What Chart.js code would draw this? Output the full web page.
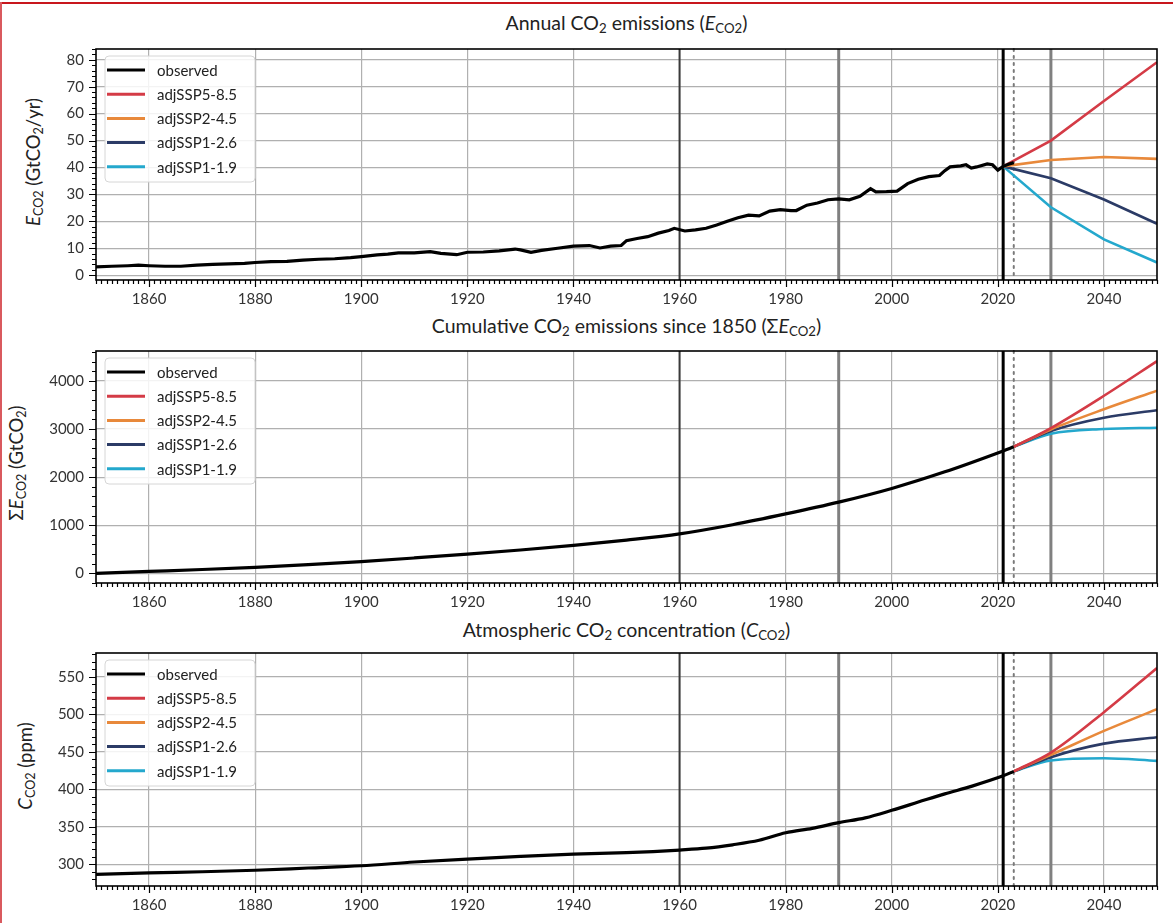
<!DOCTYPE html>
<html>
<head>
<meta charset="utf-8">
<script src="https://cdn.jsdelivr.net/npm/chart.js@4.4.1/dist/chart.umd.min.js"></script>
<style>
body { margin: 0; background: #fff; width: 1173px; height: 923px; overflow: hidden; font-family: Lato, sans-serif; position: relative; }
.frame-top { position: absolute; left: 0; top: 2px; width: 1173px; height: 2px; background: #c8161d; }
.frame-left { position: absolute; left: 0; top: 2px; width: 2px; height: 921px; background: #d9595e; }
.panel { position: absolute; left: 0; width: 1173px; }
.title { position: absolute; left: 96px; width: 1061px; text-align: center; font-size: 19.5px; line-height: 22px; color: #222; }
.ylab { position: absolute; transform: translate(-50%, -50%) rotate(-90deg); white-space: nowrap; font-size: 18.5px; color: #222; }
sub { font-size: 68%; vertical-align: -0.25em; line-height: 0; }
</style>
</head>
<body>
<div class="frame-top"></div>
<div class="frame-left"></div>

<div class="title" style="top:12px">Annual CO<sub>2</sub> emissions (<i>E</i><sub>CO2</sub>)</div>
<div class="title" style="top:315px">Cumulative CO<sub>2</sub> emissions since 1850 (Σ<i>E</i><sub>CO2</sub>)</div>
<div class="title" style="top:619px">Atmospheric CO<sub>2</sub> concentration (<i>C</i><sub>CO2</sub>)</div>

<div class="ylab" style="left:33px;top:162px"><i>E</i><sub>CO2</sub> (GtCO<sub>2</sub>/yr)</div>
<div class="ylab" style="left:16px;top:463px">Σ<i>E</i><sub>CO2</sub> (GtCO<sub>2</sub>)</div>
<div class="ylab" style="left:25px;top:766px"><i>C</i><sub>CO2</sub> (ppm)</div>

<div class="panel" style="top:28px;height:282px"><canvas id="chart-emis"></canvas></div>
<div class="panel" style="top:330px;height:283px"><canvas id="chart-cum"></canvas></div>
<div class="panel" style="top:632px;height:284px"><canvas id="chart-conc"></canvas></div>

<script>
// ---- data ----
const seriesLabels = ['observed', 'adjSSP5-8.5', 'adjSSP2-4.5', 'adjSSP1-2.6', 'adjSSP1-1.9'];
const xTicks = [1860, 1880, 1900, 1920, 1940, 1960, 1980, 2000, 2020, 2040];
const markerYears = [1960, 1990, 2021, 2023, 2030];

// annual emissions (GtCO2/yr)
const emisYears = [1850, 1853, 1856, 1858, 1860, 1863, 1866, 1869, 1872, 1875, 1878, 1880, 1883, 1886, 1889,
    1892, 1895, 1898, 1900, 1903, 1905, 1907, 1910, 1913, 1915, 1918, 1920, 1923, 1926, 1929, 1930, 1932, 1934,
    1937, 1940, 1943, 1945, 1947, 1949, 1950, 1952, 1954, 1956, 1958, 1959, 1961, 1963, 1965, 1967, 1969, 1971,
    1973, 1975, 1977, 1979, 1981, 1982, 1984, 1986, 1988, 1990, 1992, 1994, 1996, 1997, 1999, 2001, 2003, 2005,
    2007, 2009, 2010, 2011, 2013, 2014, 2015, 2016, 2018, 2019, 2020, 2021, 2022, 2023];
const emisObs = [3.1, 3.3, 3.5, 3.7, 3.5, 3.3, 3.3, 3.7, 4.0, 4.2, 4.4, 4.7, 5.0, 5.1, 5.6,
    5.9, 6.1, 6.5, 6.9, 7.5, 7.8, 8.3, 8.3, 8.7, 8.1, 7.6, 8.5, 8.6, 9.0, 9.7, 9.4, 8.5, 9.2,
    10.0, 10.8, 11.0, 10.1, 10.8, 11.0, 12.8, 13.6, 14.3, 15.6, 16.6, 17.4, 16.4, 16.8, 17.4, 18.6, 20.0, 21.3,
    22.3, 22.0, 23.8, 24.3, 24.0, 24.0, 26.0, 26.8, 28.0, 28.3, 28.0, 29.3, 32.1, 30.9, 31.0, 31.2, 34.0, 35.6,
    36.6, 37.0, 38.8, 40.2, 40.6, 41.0, 39.8, 40.2, 41.3, 41.0, 39.0, 40.4, 41.2, 41.8];
const emisScenYears = [2021, 2030, 2040, 2050];
const emis585 = [40.4, 50.0, 64.7, 79.1];
const emis245 = [40.4, 42.8, 43.9, 43.2];
const emis126 = [40.4, 36.0, 28.1, 19.1];
const emis119 = [40.4, 25.2, 13.3, 4.7];
const emisTicks = [0, 10, 20, 30, 40, 50, 60, 70, 80];

// cumulative emissions since 1850 (GtCO2)
const cumYears = [1850, 1860, 1870, 1880, 1890, 1900, 1910, 1920, 1930, 1940, 1950, 1960, 1970, 1980, 1990, 2000, 2010, 2021, 2023];
const cumObs = [0, 40, 80, 125, 180, 245, 320, 400, 485, 580, 690, 820, 1010, 1235, 1480, 1765, 2110, 2545, 2630];
const cumScenYears = [2023, 2030, 2040, 2050];
const cum585 = [2630, 3020, 3690, 4410];
const cum245 = [2630, 2990, 3410, 3795];
const cum126 = [2630, 2960, 3235, 3390];
const cum119 = [2630, 2900, 3000, 3025];
const cumTicks = [0, 1000, 2000, 3000, 4000];

// atmospheric concentration (ppm)
const concYears = [1850, 1860, 1870, 1880, 1890, 1900, 1910, 1920, 1930, 1940, 1950, 1955, 1960, 1965, 1970, 1975,
    1980, 1985, 1990, 1995, 2000, 2005, 2010, 2015, 2021, 2023];
const concObs = [286.5, 288.5, 290, 292, 295, 298, 303, 307, 310.5, 313.5, 315.5, 317, 319, 321.5, 326, 332,
    342, 348, 355.5, 362, 372, 383, 394, 404, 418, 424];
const concScenYears = [2023, 2030, 2040, 2050];
const conc585 = [424, 449, 503, 562];
const conc245 = [424, 446, 478, 507];
const conc126 = [424, 443, 461, 469.5];
const conc119 = [424, 438.5, 441.5, 438];
const concTicks = [300, 350, 400, 450, 500, 550];

// ---- styles ----
const seriesColors = ['#000000', '#d43b46', '#e8893b', '#2b3b66', '#24a8cd'];
const markerStyles = [
    { color: '#3a3a3a', width: 2, dash: [] },
    { color: '#808080', width: 3, dash: [] },
    { color: '#000000', width: 3, dash: [] },
    { color: '#7a7a7a', width: 2, dash: [2, 5] },
    { color: '#808080', width: 3, dash: [] },
];
const FONT = 'Lato, "Noto Sans", sans-serif';

function pairs(xs, ys) {
    return xs.map((x, i) => ({ x, y: ys[i] }));
}

const decorPlugin = {
    id: 'decor',
    beforeDatasetsDraw(chart) {
        const { ctx, chartArea: a, scales: { x } } = chart;
        ctx.save();
        markerYears.forEach((yr, i) => {
            const st = markerStyles[i];
            const px = x.getPixelForValue(yr);
            ctx.beginPath();
            ctx.strokeStyle = st.color;
            ctx.lineWidth = st.width;
            ctx.setLineDash(st.dash);
            ctx.lineCap = st.dash.length ? 'round' : 'butt';
            ctx.moveTo(px, a.top);
            ctx.lineTo(px, a.bottom);
            ctx.stroke();
        });
        ctx.restore();
    },
    afterDatasetsDraw(chart, args, opts) {
        const { ctx, chartArea: a, scales: { x, y } } = chart;
        ctx.save();
        ctx.strokeStyle = '#000';
        ctx.lineWidth = 1.2;
        ctx.beginPath();
        // x ticks: minor every year, major on labelled ticks
        for (let yr = Math.ceil(x.min); yr <= x.max; yr++) {
            const px = Math.round(x.getPixelForValue(yr)) + 0.5;
            const len = xTicks.includes(yr) ? 7 : 4;
            ctx.moveTo(px, a.bottom);
            ctx.lineTo(px, a.bottom + len);
        }
        // y ticks
        const start = Math.ceil(y.min / opts.yMinor) * opts.yMinor;
        for (let v = start; v <= y.max; v += opts.yMinor) {
            const py = Math.round(y.getPixelForValue(v)) + 0.5;
            const len = opts.yTicks.includes(v) ? 7 : 4;
            ctx.moveTo(a.left, py);
            ctx.lineTo(a.left - len, py);
        }
        ctx.stroke();
        // frame
        ctx.lineWidth = 1.6;
        ctx.strokeRect(a.left, a.top, a.right - a.left, a.bottom - a.top);

        // legend
        const lx = a.left + 9, ly = a.top + 7, lw = 150, lh = 126;
        ctx.beginPath();
        ctx.roundRect(lx, ly, lw, lh, 4);
        ctx.fillStyle = 'rgba(255,255,255,0.85)';
        ctx.fill();
        ctx.strokeStyle = '#d6d6d6';
        ctx.lineWidth = 1;
        ctx.stroke();
        ctx.font = '15px ' + FONT;
        ctx.textBaseline = 'middle';
        ctx.textAlign = 'left';
        chart.data.datasets.forEach((ds, i) => {
            const cy = a.top + 21 + i * 24.2;
            ctx.beginPath();
            ctx.strokeStyle = ds.borderColor;
            ctx.lineWidth = 3;
            ctx.moveTo(a.left + 11, cy);
            ctx.lineTo(a.left + 49, cy);
            ctx.stroke();
            ctx.fillStyle = '#222';
            ctx.fillText(ds.label, a.left + 61, cy + 1);
        });
        ctx.restore();
    },
};

function makeChart(id, obs, scen, yMin, yMax, yTicks, yMinor, smooth) {
    const datasets = [obs].concat(scen).map((data, i) => ({
        label: seriesLabels[i],
        data,
        borderColor: seriesColors[i],
        borderWidth: i === 0 ? 3.2 : 2.6,
        pointRadius: 0,
        fill: false,
        cubicInterpolationMode: smooth ? 'monotone' : 'default',
        tension: 0,
    }));
    return new Chart(document.getElementById(id), {
        type: 'line',
        data: { datasets },
        plugins: [decorPlugin],
        options: {
            responsive: true,
            maintainAspectRatio: false,
            animation: false,
            layout: { padding: { top: 14, right: 16, left: 0, bottom: 0 } },
            plugins: {
                legend: { display: false },
                tooltip: { enabled: false },
                decor: { yTicks, yMinor },
            },
            scales: {
                x: {
                    type: 'linear',
                    min: 1850,
                    max: 2050,
                    afterBuildTicks: (s) => { s.ticks = xTicks.map((v) => ({ value: v })); },
                    afterFit: (s) => { s.height = 30; },
                    grid: { color: '#b0b0b0', lineWidth: 1.2, drawTicks: false },
                    border: { display: false },
                    ticks: {
                        padding: 10,
                        color: '#333',
                        font: { family: FONT, size: 15 },
                        callback: (v) => String(v),
                        maxRotation: 0,
                    },
                },
                y: {
                    type: 'linear',
                    min: yMin,
                    max: yMax,
                    afterBuildTicks: (s) => { s.ticks = yTicks.map((v) => ({ value: v })); },
                    afterFit: (s) => { s.width = 96; },
                    grid: { color: '#b0b0b0', lineWidth: 1.2, drawTicks: false },
                    border: { display: false },
                    ticks: {
                        padding: 12,
                        color: '#333',
                        font: { family: FONT, size: 15 },
                        callback: (v) => String(v),
                    },
                },
            },
        },
    });
}

makeChart('chart-emis', pairs(emisYears, emisObs),
    [emis585, emis245, emis126, emis119].map((s) => pairs(emisScenYears, s)),
    -1.8, 84, emisTicks, 2, false);
makeChart('chart-cum', pairs(cumYears, cumObs),
    [cum585, cum245, cum126, cum119].map((s) => pairs(cumScenYears, s)),
    -200, 4620, cumTicks, 200, true);
makeChart('chart-conc', pairs(concYears, concObs),
    [conc585, conc245, conc126, conc119].map((s) => pairs(concScenYears, s)),
    271, 582, concTicks, 10, true);
</script>
</body>
</html>
